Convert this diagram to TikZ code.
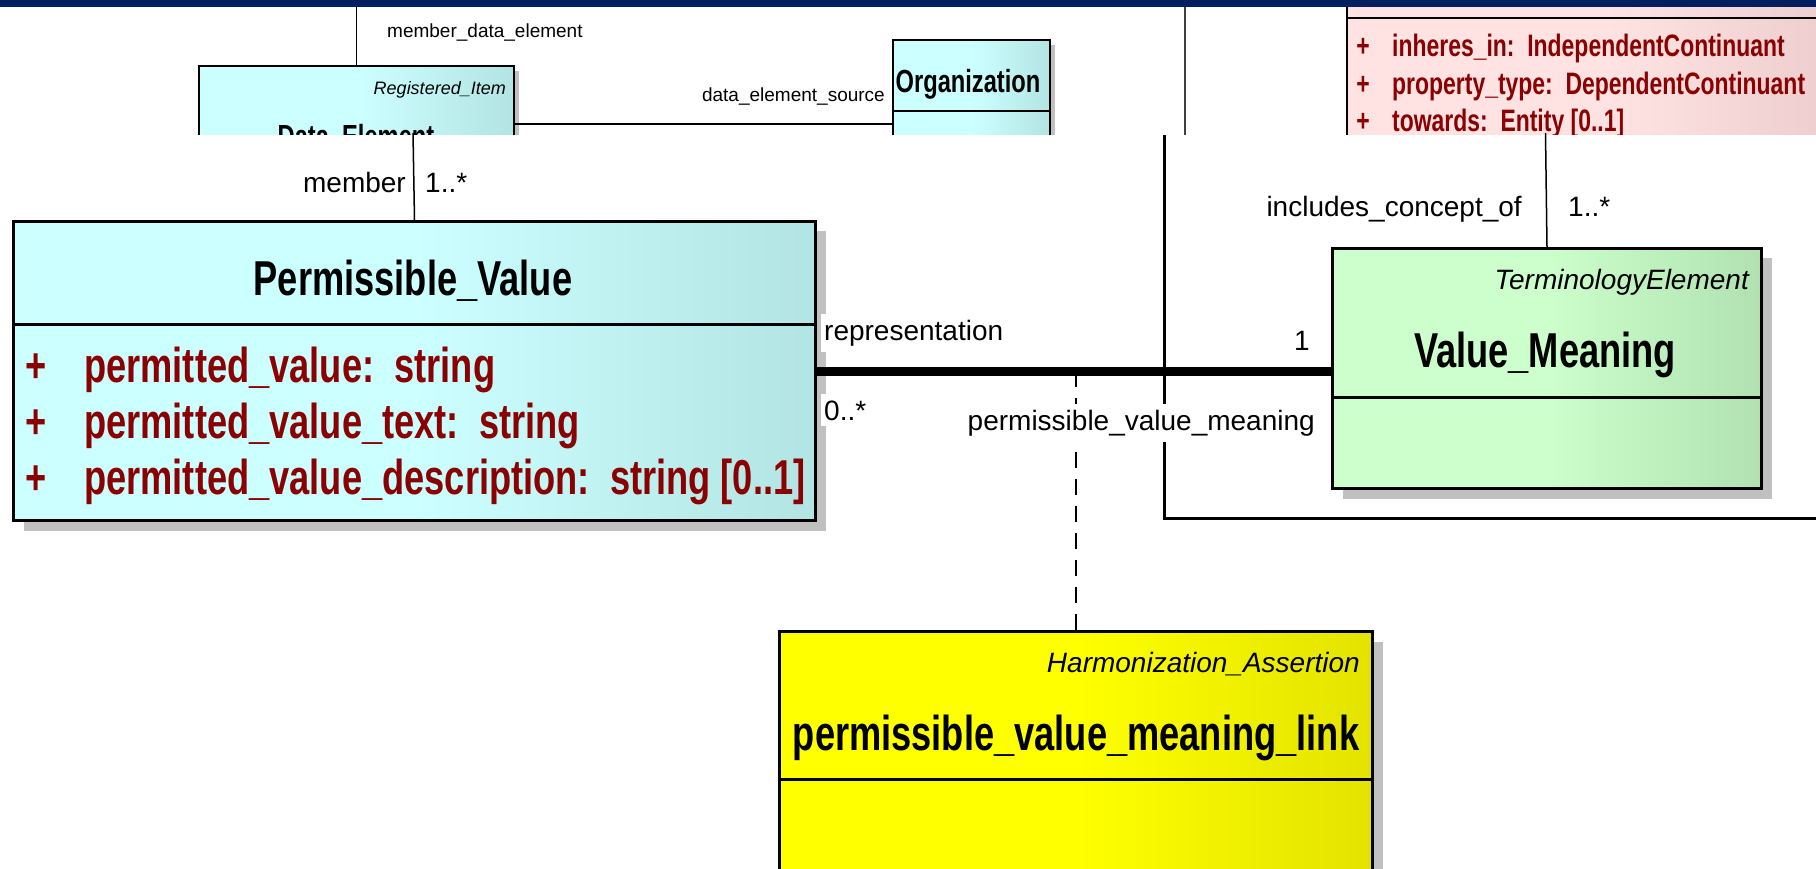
\documentclass[tikz,border=0pt]{standalone}
\usepackage{fontspec}
\setmainfont{Liberation Sans}
\newfontfamily\condfont{Liberation Sans}[FakeStretch=0.74]
\usetikzlibrary{shadows}
\definecolor{navy}{RGB}{0,30,96}
\definecolor{cyanL}{HTML}{CCFFFF}
\definecolor{cyanR}{HTML}{B3E4E4}
\definecolor{greenL}{HTML}{CCFFCC}
\definecolor{greenR}{HTML}{B1E1B1}
\definecolor{yelL}{HTML}{FFFF00}
\definecolor{yelR}{HTML}{E3E300}
\definecolor{pinkL}{HTML}{FFE3E3}
\definecolor{pinkR}{HTML}{EBCACA}
\definecolor{attr}{HTML}{8B0000}
\definecolor{shade}{HTML}{C0C0C0}
\pgfdeclarehorizontalshading{cyanshade}{100bp}{color(0bp)=(cyanL); color(50bp)=(cyanL); color(75bp)=(cyanR); color(100bp)=(cyanR)}
\pgfdeclarehorizontalshading{greenshade}{100bp}{color(0bp)=(greenL); color(50bp)=(greenL); color(75bp)=(greenR); color(100bp)=(greenR)}
\pgfdeclarehorizontalshading{yelshade}{100bp}{color(0bp)=(yelL); color(50bp)=(yelL); color(75bp)=(yelR); color(100bp)=(yelR)}
\pgfdeclarehorizontalshading{pinkshade}{100bp}{color(0bp)=(pinkL); color(50bp)=(pinkL); color(75bp)=(pinkR); color(100bp)=(pinkR)}
\tikzset{
  bigbox/.style={rectangle, draw=black, line width=3pt, inner sep=0pt, anchor=north west,
    drop shadow={shadow xshift=10pt, shadow yshift=-10pt, fill=shade, opacity=1}},
  smallbox/.style={rectangle, draw=black, line width=2pt, inner sep=0pt, anchor=north west,
    drop shadow={shadow xshift=5pt, shadow yshift=-5pt, fill=shade, opacity=1}},
  bigtitle/.style={inner sep=0pt, anchor=base, font=\condfont\bfseries\fontsize{49}{55}\selectfont},
  bigattr/.style={inner sep=0pt, anchor=base west, text=attr, font=\condfont\bfseries\fontsize{49}{55}\selectfont},
  smalltitle/.style={inner sep=0pt, anchor=base, font=\condfont\bfseries\fontsize{32}{36}\selectfont},
  smallattr/.style={inner sep=0pt, anchor=base west, text=attr, font=\condfont\bfseries\fontsize{31}{36}\selectfont},
  bigstereo/.style={inner sep=0pt, anchor=base east, font=\itshape\fontsize{28}{32}\selectfont},
  smallstereo/.style={inner sep=0pt, anchor=base east, font=\itshape\fontsize{18}{21}\selectfont},
  biglabel/.style={inner sep=0pt, font=\fontsize{28}{32}\selectfont},
  smalllabel/.style={inner sep=0pt, font=\fontsize{19}{22}\selectfont},
  whitelabel/.style={biglabel, fill=white, inner xsep=3pt, inner ysep=6pt},
  thinline/.style={line width=1.5pt, draw=black},
}
\begin{document}
\begin{tikzpicture}[x=1pt, y=-1pt]
\clip (0,0) rectangle (1816,869);
\fill[white] (0,0) rectangle (1816,869);

% ---------- upper strip (small scale) ----------
\begin{scope}
  \clip (0,7) rectangle (1816,135);
  \coordinate (topA) at (354,0);
  \coordinate (gA) at (1185,0);
  \coordinate (gB) at (1185,140);
  \draw[line width=2pt, draw=black!75] (gA) -- (gB);
  \node[smallbox, minimum width=315, minimum height=116, shade, shading=cyanshade] (de) at (198,65) {};
  \node[smallstereo] (destereo) at (506,95) {Registered\_Item};
  \node[smalltitle] (detitle) at (356,148) {Data\_Element};
  \node[smallbox, minimum width=157, minimum height=168, shade, shading=cyanshade] (org) at (892,39) {};
  \draw[line width=2pt] (org.west |- 0,111) -- (org.east |- 0,111);
  \node[smalltitle] (orgtitle) at (968,93) {Organization};
  \draw[line width=2pt] (de.east) -- (org.west);
  \draw[thinline] (de.north) -- (de.north |- topA);
  \node[smalllabel, anchor=base west] (lmde) at (387,38) {member\_data\_element};
  \node[smalllabel, anchor=base east] (ldes) at (885,102) {data\_element\_source};
  \node[smallbox, minimum width=520, minimum height=300, shade, shading=pinkshade] (pk) at (1346,-60) {};
  \draw[line width=2pt] (pk.west |- 0,18) -- (pk.east |- 0,18);
  \node[smallattr, anchor=base] (pkp1) at (1363,57) {+};
  \node[smallattr] (pka1) at (1392,57) {inheres\_in:\ \ IndependentContinuant};
  \node[smallattr, anchor=base] (pkp2) at (1363,95) {+};
  \node[smallattr] (pka2) at (1392,95) {property\_type:\ \ DependentContinuant};
  \node[smallattr, anchor=base] (pkp3) at (1363,132) {+};
  \node[smallattr] (pka3) at (1392,132) {towards:\ \ Entity [0..1]};
\end{scope}

% ---------- lower part (large scale) ----------
\coordinate (frA) at (1164,135);
\coordinate (frB) at (1164,518);
\coordinate (frC) at (1830,518);
\draw[line width=3pt] (frA) -- (frB) -- (frC);

\node[bigbox, minimum width=802, minimum height=299, shade, shading=cyanshade] (pv) at (12,220) {};
\draw[line width=3pt] (pv.west |- 0,324) -- (pv.east |- 0,324);
\node[bigtitle] (pvtitle) at (413,295) {Permissible\_Value};
\node[bigattr, anchor=base] (pvp1) at (36,382) {+};
\node[bigattr] (pva1) at (84,382) {permitted\_value:\ \ string};
\node[bigattr, anchor=base] (pvp2) at (36,438) {+};
\node[bigattr] (pva2) at (84,438) {permitted\_value\_text:\ \ string};
\node[bigattr, anchor=base] (pvp3) at (36,494) {+};
\node[bigattr] (pva3) at (84,494) {permitted\_value\_description:\ \ string [0..1]};

\node[bigbox, minimum width=429, minimum height=240, shade, shading=greenshade] (vm) at (1331,247) {};
\draw[line width=3pt] (vm.west |- 0,397) -- (vm.east |- 0,397);
\node[bigstereo] (vmstereo) at (1749,290) {TerminologyElement};
\node[bigtitle] (vmtitle) at (1545,367) {Value\_Meaning};

\node[bigbox, minimum width=593, minimum height=300, shade, shading=yelshade] (yl) at (778,630) {};
\draw[line width=3pt] (yl.west |- 0,779) -- (yl.east |- 0,779);
\node[bigstereo] (ylstereo) at (1360,672) {Harmonization\_Assertion};
\node[bigtitle] (yltitle) at (1076,750) {permissible\_value\_meaning\_link};

% connectors
\coordinate (cutA) at (413,133);
\coordinate (cutB) at (1545.5,133);
\draw[thinline] (pv.north) -- (cutA);
\draw[thinline] (vm.north) -- (cutB);
\draw[line width=9pt] (pv.east) -- (pv.east -| vm.west);
\draw[line width=2pt, dash pattern=on 16pt off 11pt] (yl.north) -- (yl.north |- pv.east);

% labels
\node[biglabel, anchor=base east] (lmem) at (406,193) {member};
\node[biglabel, anchor=base west] (lmemm) at (425,193) {1..*};
\node[biglabel, anchor=base east] (linc) at (1522,217) {includes\_concept\_of};
\node[biglabel, anchor=base west] (lincm) at (1568,217) {1..*};
\node[whitelabel, anchor=base west] (lrep) at (821,340) {representation};
\node[biglabel, anchor=base] (lone) at (1302,350) {1};
\node[whitelabel, anchor=base west] (lzero) at (821,420) {0..*};
\node[whitelabel, anchor=base east] (lpvm) at (1318,430) {permissible\_value\_meaning};

% top bar
\fill[navy] (0,0) rectangle (1816,7);
\end{tikzpicture}
\end{document}
